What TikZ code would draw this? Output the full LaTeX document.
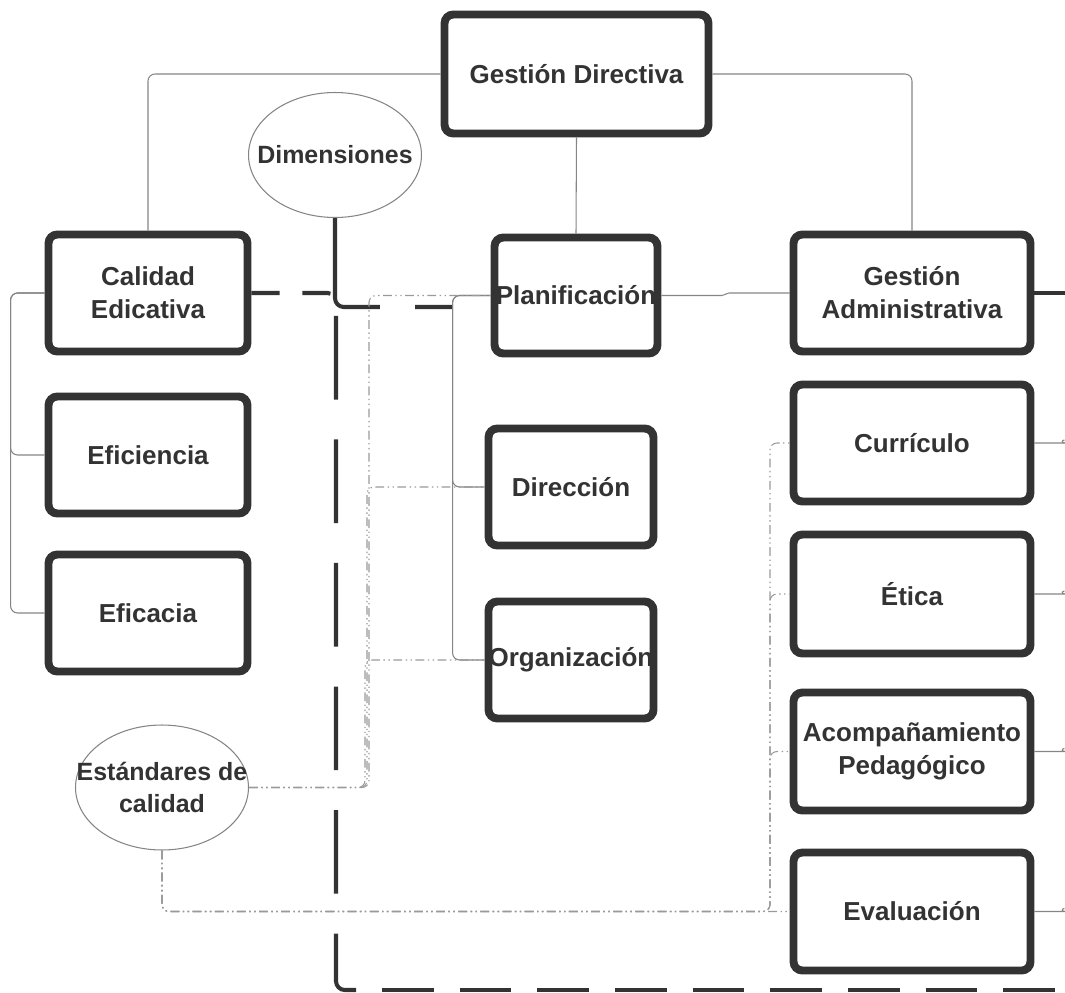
\documentclass[tikz,border=0pt]{standalone}
\usepackage{fontspec}
\setmainfont{Liberation Sans}
\usepackage{tikz}
\usetikzlibrary{calc}
\usetikzlibrary{shapes}
\definecolor{boxdark}{HTML}{333333}
\definecolor{linegray}{HTML}{858585}
\definecolor{dotgray}{HTML}{9A9A9A}
\newcommand{\labelfont}{\fontsize{14.8pt}{18.7pt}\selectfont\bfseries}
\newcommand{\ovalfont}{\fontsize{14.2pt}{18.2pt}\selectfont\bfseries}
\newcommand{\boxnode}[6]{\node[mainbox, minimum width=#4cm, minimum height=#5cm] (#1) at ( #2 , #3 ) {#6};}
\tikzset{
  mainbox/.style={draw=boxdark, line width=4.5pt, rounded corners=5pt, fill=white, align=center, text=boxdark, font=\labelfont, inner sep=0pt},
  ovalnode/.style={ellipse, draw=linegray, line width=0.6pt, fill=white, inner sep=0pt, minimum width=3.46cm, minimum height=2.5cm},
  lbl/.style={align=center, text=boxdark, font=\ovalfont, inner sep=0pt},
  conn/.style={draw=linegray, line width=0.6pt, rounded corners=4pt},
  heavy/.style={draw=boxdark, line width=2.3pt, rounded corners=5pt, dash pattern=on 30pt off 15pt},
  dotline/.style={draw=dotgray, line width=0.6pt, rounded corners=4pt, dash pattern=on 5pt off 2pt on 0.8pt off 2pt on 0.8pt off 2pt}
}

\begin{document}
\begin{tikzpicture}[x=0.02cm, y=-0.02cm]
        \useasboundingbox (0,0) rectangle (1065,993);

        %nodes
        \boxnode{gd}{576.5}{74}{5.28}{2.38}{Gestión Directiva}
        \boxnode{cal}{148}{293}{3.98}{2.34}{Calidad\\Edicativa}
        \boxnode{efi}{148}{455}{3.98}{2.34}{Eficiencia}
        \boxnode{efa}{148}{613}{3.98}{2.34}{Eficacia}
        \boxnode{pla}{576}{295.5}{3.26}{2.32}{Planificación}
        \boxnode{dir}{571}{487}{3.30}{2.34}{Dirección}
        \boxnode{org}{571}{660}{3.30}{2.34}{Organización}
        \boxnode{adm}{912}{293}{4.74}{2.34}{Gestión\\Administrativa}
        \boxnode{cur}{912}{443}{4.74}{2.34}{Currículo}
        \boxnode{eti}{912}{594}{4.74}{2.38}{Ética}
        \boxnode{aco}{912}{751.5}{4.74}{2.36}{Acompañamiento\\Pedagógico}
        \boxnode{eva}{912}{911.5}{4.74}{2.36}{Evaluación}

        \node[ovalnode] (dim) at (335,155) {};
        \node[lbl] (dimtxt) at (dim.center) {Dimensiones};
        \node[ovalnode] (std) at (162,787.5) {};
        \node[lbl] (stdtxt) at (std.center) {Estándares de\\calidad};

        \coordinate (hub) at (336,307);
        \coordinate (plajoin) at (452,307);
        \coordinate (corner) at (336,990);
        \coordinate (hcut) at (356,990);
        \coordinate (hstart) at (382,990);
        \coordinate (botend) at (1065,990);
        \coordinate (admout) at (1065,293);
        \coordinate (rbus) at (770,911.5);

        %edges
        \draw[conn] (gd.west) -| (cal.north);
        \draw[conn] (gd.east) -| (adm.north);
        \draw[conn] (gd.south) -- (pla.north);
        \draw[conn] (cal.west) -- ++(-34,0) |- (efi.west);
        \draw[conn] (cal.west) -- ++(-34,0) |- (efa.west);
        \draw[conn] (pla.west) -- ++(-38,0) |- (dir.west);
        \draw[conn] (pla.west) -- ++(-38,0) |- (org.west);
        \draw[conn, rounded corners=1pt] (pla.east) -- ++(62,0) -- ++(4,-2.5) -- (adm.west);
        \foreach \n in {cur,eti,aco,eva}
          \draw[conn] (\n.east) -- ++(24,0) to[out=0,in=180] ++(6,-3);

        \draw[heavy] (adm.east) -- (admout);
        \draw[heavy, dash pattern=on 74pt off 20pt on 21pt off 20pt] (dim.south) |- (plajoin);
        \draw[heavy, dash pattern=on 16pt off 13pt] (cal.east) -| (hub);
        \draw[heavy, dash pattern=on 47.6pt off 22.7pt, dash phase=65.2pt] (hub) -- (corner) -- (hcut);
        \draw[heavy, dash pattern=on 29.5pt off 14.7pt] (hstart) -- (botend);

        \draw[dotline] (std.east) -- ++(120,0) |- (pla.west);
        \draw[dotline] (std.east) -- ++(118,0) |- (dir.west);
        \draw[dotline] (std.east) -- ++(116,0) |- (org.west);
        \draw[dotline] (std.south) |- (eva.west);
        \foreach \n in {cur,eti,aco}
          \draw[dotline] (std.south) |- (rbus) |- (\n.west);

\end{tikzpicture}
\end{document}
